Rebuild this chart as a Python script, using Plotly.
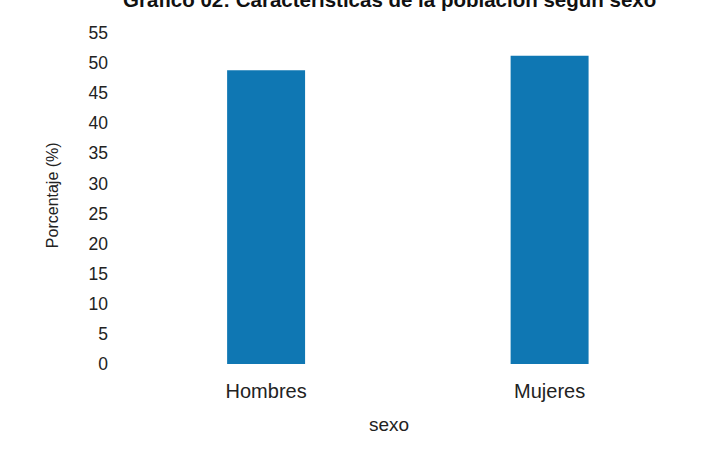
import plotly.graph_objects as go

# Population share by sex (%)
categories = ["Hombres", "Mujeres"]
percentages = [48.8, 51.2]
y_ticks = [0, 5, 10, 15, 20, 25, 30, 35, 40, 45, 50, 55]

title_text = "Gráfico 02: Características de la población según sexo"
bar_color = "#0f77b3"
narrow = "Liberation Sans Narrow, Arial Narrow, sans-serif"
regular = "Liberation Sans, Arial, sans-serif"

fig = go.Figure(
    go.Bar(
        x=[0, 1],
        y=percentages,
        width=0.275,
        marker=dict(color=bar_color, line=dict(width=0)),
        hoverinfo="skip",
    )
)

fig.update_layout(
    width=702,
    height=454,
    margin=dict(l=115, r=39, t=33, b=90),
    paper_bgcolor="white",
    plot_bgcolor="white",
    showlegend=False,
    xaxis=dict(
        range=[-0.533, 1.40],
        tickmode="array",
        tickvals=[0, 1],
        ticktext=categories,
        showgrid=False,
        zeroline=False,
        showline=False,
        ticks="",
        tickfont=dict(family=regular, size=20, color="#222"),
        ticklabelstandoff=13,
        fixedrange=True,
    ),
    yaxis=dict(
        range=[0, 55],
        tickmode="array",
        tickvals=y_ticks,
        showgrid=False,
        zeroline=False,
        showline=False,
        ticks="",
        tickfont=dict(family=narrow, size=17.5, color="#222"),
        ticklabelstandoff=6,
        fixedrange=True,
    ),
    annotations=[
        # Title sits partly above the top edge of the page
        dict(
            text="<b>" + title_text + "</b>",
            xref="paper", yref="paper",
            x=0.5, y=1.059,
            xanchor="center", yanchor="bottom",
            showarrow=False,
            font=dict(family=regular, size=20.5, color="#111"),
        ),
        dict(
            text="sexo",
            xref="paper", yref="paper",
            x=0.5, y=-0.184,
            xanchor="center", yanchor="middle",
            showarrow=False,
            font=dict(family=regular, size=19, color="#222"),
        ),
        dict(
            text="Porcentaje (%)",
            xref="paper", yref="paper",
            x=-0.115, y=0.51,
            xanchor="center", yanchor="middle",
            textangle=-90,
            showarrow=False,
            font=dict(family=narrow, size=16, color="#222"),
        ),
    ],
)

fig.write_html("out.html")
